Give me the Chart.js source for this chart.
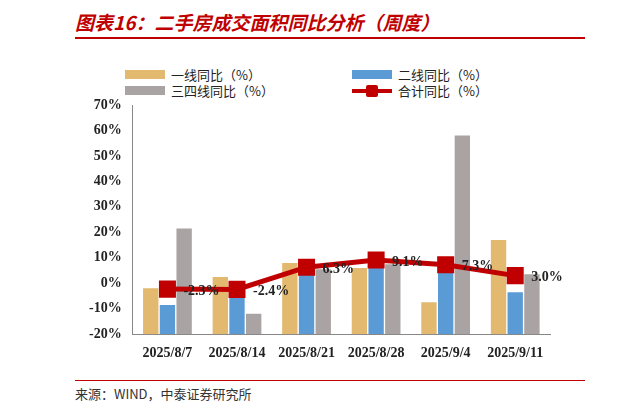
<!DOCTYPE html>
<html><head><meta charset="utf-8">
<script src="https://cdn.jsdelivr.net/npm/chart.js@4"></script>
<style>
body{margin:0;width:621px;height:415px;background:#fff;position:relative;overflow:hidden;font-family:"Noto Sans CJK SC",sans-serif}
#title{position:absolute;left:75px;top:8px;color:#c00000;font-size:19px;font-style:italic;font-weight:bold}
#line{position:absolute;left:75px;top:37px;width:510px;height:2px;background:#c00000}
#src{position:absolute;left:75px;top:384px;font-size:13px;color:#333}
#bottomline{position:absolute;left:75px;top:380px;width:510px;height:1px;background:#c00000}
#wrap{position:absolute;left:86px;top:60px;width:494px;height:305px}
.lg{position:absolute;font-size:13px;color:#222;display:flex;align-items:center}
.sw{width:40px;height:9px;margin-right:6px}
</style></head><body>
<div id="title">图表16：二手房成交面积同比分析（周度）</div>
<div id="line"></div>
<div class="lg" style="left:125px;top:65px"><span class="sw" style="background:#e2b96f"></span>一线同比（%）</div>
<div class="lg" style="left:352px;top:65px"><span class="sw" style="background:#5b9bd5"></span>二线同比（%）</div>
<div class="lg" style="left:125px;top:81px"><span class="sw" style="background:#aaa3a3"></span>三四线同比（%）</div>
<div class="lg" style="left:352px;top:81px"><span style="position:relative;width:40px;height:12px;margin-right:6px"><span style="position:absolute;left:0;top:4px;width:40px;height:4px;background:#c00000"></span><span style="position:absolute;left:14px;top:0;width:12px;height:12px;background:#c00000;border-radius:2px"></span></span>合计同比（%）</div>
<div id="wrap"><canvas id="c"></canvas></div>
<div id="bottomline"></div>
<div id="src">来源：WIND，中泰证券研究所</div>
<script>
const fechas = ['2025/8/7', '2025/8/14', '2025/8/21', '2025/8/28', '2025/9/4', '2025/9/11'];
const tier1 = [-2, 2.5, 8, 6, -7.5, 17];
const tier2 = [-8.5, -5, 5, 9, 4.5, -3.5];
const tier34 = [21.5, -12, 5.5, 7.5, 58, 3.5];
const total = [-2.3, -2.4, 6.3, 9.1, 7.3, 3.0];

const etiquetas = {
  id: 'etiquetas',
  afterDatasetsDraw(chart) {
    const ctx = chart.ctx;
    const meta = chart.getDatasetMeta(3);
    ctx.save();
    ctx.font = 'bold 14px "Liberation Serif"';
    ctx.fillStyle = '#222';
    ctx.textBaseline = 'middle';
    meta.data.forEach((p, i) => {
      ctx.fillText(total[i].toFixed(1) + '%', p.x + 16, p.y + 2);
    });
    ctx.restore();
  }
};

// las barras arrancan desde el mínimo del eje (-20%)
const barra = (label, data, color) => ({
  type: 'bar', label, data, backgroundColor: color, order: 2, base: -20,
  categoryPercentage: 0.72, barPercentage: 0.92
});

new Chart(document.getElementById('c'), {
  data: {
    labels: fechas,
    datasets: [
      barra('一线同比（%）', tier1, '#e2b96f'),
      barra('二线同比（%）', tier2, '#5b9bd5'),
      barra('三四线同比（%）', tier34, '#aaa3a3'),
      {
        type: 'line', label: '合计同比（%）', data: total, order: 1,
        borderColor: '#c00000', borderWidth: 5, backgroundColor: '#c00000',
        pointStyle: 'rect', pointRadius: 8.5
      }
    ]
  },
  options: {
    responsive: true, maintainAspectRatio: false, animation: false,
    layout: { padding: { top: 45, right: 30 } },
    plugins: { legend: { display: false }, tooltip: { enabled: false } },
    scales: {
      x: {
        grid: { display: false },
        border: { color: '#888' },
        ticks: { color: '#222', font: { family: 'Liberation Serif', weight: 'bold', size: 14 } }
      },
      y: {
        min: -20, max: 70,
        ticks: { stepSize: 10, color: '#222', callback: v => v + '%', font: { family: 'Liberation Serif', weight: 'bold', size: 14 } },
        grid: { display: false },
        border: { color: '#888' }
      }
    }
  },
  plugins: [etiquetas]
});
</script>
</body></html>
